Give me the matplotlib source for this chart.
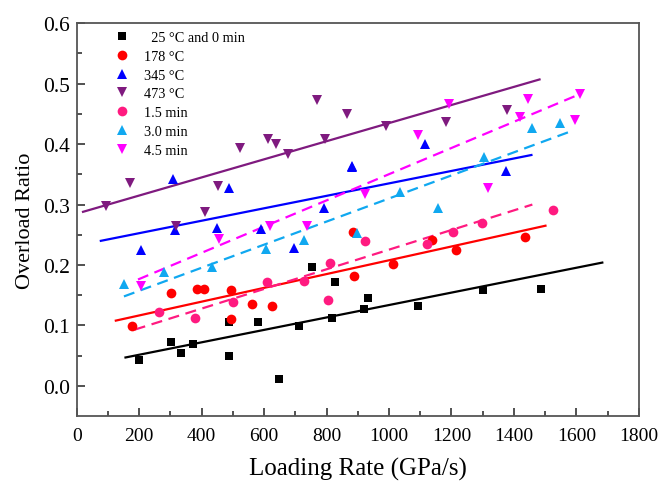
import matplotlib
matplotlib.use("Agg")
import matplotlib.pyplot as plt
import numpy as np

plt.rcParams["font.family"] = ["Liberation Serif", "DejaVu Serif"]

# loading rate (GPa/s) and overload ratio for each condition
x_25 = [199, 303, 335, 372, 487, 487, 580, 649, 713, 753, 817, 827, 919, 934, 1093, 1302, 1488]
y_25 = [0.043, 0.072, 0.054, 0.069, 0.105, 0.049, 0.105, 0.011, 0.099, 0.197, 0.113, 0.172, 0.128, 0.146, 0.132, 0.158, 0.160]

x_178 = [178, 303, 385, 406, 494, 494, 562, 625, 889, 883, 1013, 1139, 1216, 1437]
y_178 = [0.099, 0.153, 0.161, 0.161, 0.158, 0.110, 0.136, 0.132, 0.182, 0.254, 0.202, 0.242, 0.225, 0.247]

x_345 = [207, 308, 313, 450, 486, 590, 695, 793, 881, 881, 1116, 1374]
y_345 = [0.225, 0.342, 0.258, 0.262, 0.328, 0.259, 0.228, 0.294, 0.364, 0.362, 0.401, 0.355]

x_473 = [93, 171, 318, 412, 452, 523, 612, 638, 676, 768, 795, 864, 990, 1182, 1379]
y_473 = [0.297, 0.335, 0.264, 0.287, 0.331, 0.394, 0.409, 0.401, 0.384, 0.473, 0.408, 0.450, 0.430, 0.436, 0.456]

x_15 = [263, 377, 500, 608, 729, 804, 812, 922, 1120, 1205, 1299, 1526]
y_15 = [0.123, 0.113, 0.138, 0.172, 0.174, 0.142, 0.204, 0.240, 0.235, 0.254, 0.270, 0.291]

x_30 = [151, 279, 434, 607, 729, 899, 1035, 1158, 1304, 1459, 1549]
y_30 = [0.168, 0.189, 0.197, 0.227, 0.242, 0.253, 0.321, 0.295, 0.379, 0.426, 0.435]

x_45 = [205, 455, 619, 737, 924, 1093, 1193, 1317, 1421, 1446, 1595, 1613]
y_45 = [0.166, 0.243, 0.264, 0.265, 0.317, 0.415, 0.467, 0.327, 0.445, 0.475, 0.440, 0.483]

# linear fit lines: [start, end]
fit_x_25, fit_y_25 = [156, 1683], [0.047, 0.204]
fit_x_178, fit_y_178 = [125, 1501], [0.108, 0.265]
fit_x_345, fit_y_345 = [77, 1456], [0.240, 0.382]
fit_x_473, fit_y_473 = [20, 1482], [0.288, 0.507]
fit_x_15, fit_y_15 = [185, 1459], [0.093, 0.300]
fit_x_30, fit_y_30 = [151, 1576], [0.148, 0.420]
fit_x_45, fit_y_45 = [196, 1603], [0.176, 0.481]

labels = ["  25 \u00b0C and 0 min", "178 \u00b0C", "345 \u00b0C", "473 \u00b0C", "1.5 min", "3.0 min", "4.5 min"]

series = [
    (x_25, y_25, fit_x_25, fit_y_25, "black", "s", 6, "-"),
    (x_178, y_178, fit_x_178, fit_y_178, "#ff0000", "o", 7, "-"),
    (x_345, y_345, fit_x_345, fit_y_345, "#0000ff", "^", 7.5, "-"),
    (x_473, y_473, fit_x_473, fit_y_473, "#7f1a7f", "v", 7.5, "-"),
    (x_15, y_15, fit_x_15, fit_y_15, "#ff1a80", "o", 7, "--"),
    (x_30, y_30, fit_x_30, fit_y_30, "#10a8f0", "^", 7.5, "--"),
    (x_45, y_45, fit_x_45, fit_y_45, "#ff00ff", "v", 7.5, "--"),
]

fig = plt.figure(figsize=(6.62, 4.85), dpi=100)
ax = fig.add_axes([0.116, 0.14, 0.849, 0.81])

handles = []
for (xs, ys, fx, fy, col, mk, ms, ls), lab in zip(series, labels):
    h, = ax.plot(xs, ys, linestyle="none", marker=mk, markersize=ms,
                 color=col, markeredgewidth=0, label=lab, zorder=3)
    handles.append(h)
    if ls == "--":
        ax.plot(fx, fy, color=col, lw=1.6, dashes=(5, 3), zorder=2)
    else:
        ax.plot(fx, fy, color=col, lw=1.6, zorder=2)

ax.set_xlim(0, 1800)
ax.set_ylim(-0.05, 0.6)
ax.set_xticks(np.arange(0, 1801, 200))
ax.set_xticks(np.arange(100, 1800, 200), minor=True)
ax.set_yticks(np.arange(0, 0.61, 0.1))
ax.set_yticks(np.arange(0.05, 0.6, 0.1), minor=True)
ax.yaxis.set_major_formatter(matplotlib.ticker.FormatStrFormatter("%.1f"))
ax.tick_params(which="both", direction="in", width=1.2, colors="#333333",
               labelcolor="black")
ax.tick_params(which="major", length=6)
ax.tick_params(which="minor", length=3.5)
ax.tick_params(axis="x", pad=8, labelsize=14)
ax.tick_params(axis="y", pad=5, labelsize=15.5)
for s in ax.spines.values():
    s.set_linewidth(1.3)
    s.set_color("#555555")

ax.set_xlabel("Loading Rate (GPa/s)", fontsize=18, labelpad=9)
ax.set_ylabel("Overload Ratio", fontsize=16, labelpad=6)

ax.legend(handles=handles, loc="upper left", bbox_to_anchor=(0.054, 1.0),
          frameon=False, fontsize=10.3, handlelength=1.0, handletextpad=1.0,
          labelspacing=0.4, borderaxespad=0.15)

fig.savefig("out.png", dpi=100)
